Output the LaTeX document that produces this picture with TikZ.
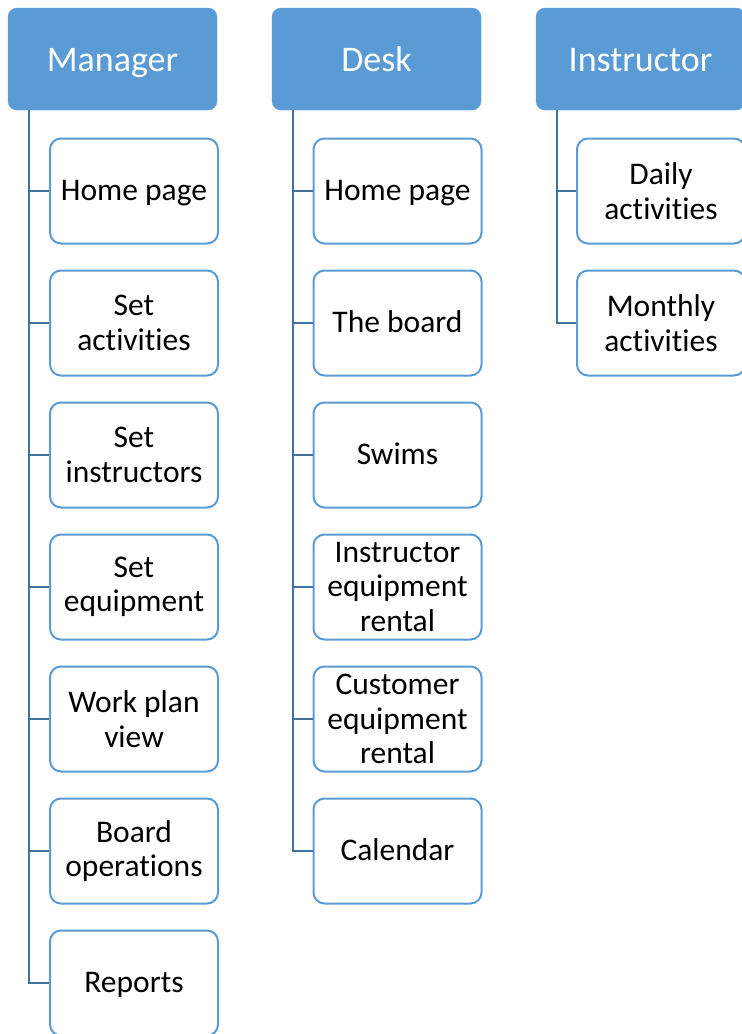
\documentclass[tikz,border=0pt]{standalone}
\usepackage{fontspec}
\setmainfont{Carlito}[Ligatures=NoCommon]
\usetikzlibrary{positioning}
\definecolor{headblue}{HTML}{5B9BD5}
\definecolor{linkblue}{HTML}{41719C}

\begin{document}
\begin{tikzpicture}[x=1pt,y=-1pt,
  head/.style={fill=headblue, draw=headblue, rounded corners=9pt, minimum width=209pt, minimum height=102pt, inner sep=0pt, text height=32pt, text depth=8pt, text=white, font=\fontsize{36}{40}\selectfont},
  item/.style={fill=white, draw=headblue, line width=2pt, rounded corners=11pt, minimum width=168pt, minimum height=105pt, inner sep=0pt, align=center, font=\fontsize{31.5}{34.5}\selectfont},
  one/.style={text height=24pt, text depth=6pt},
  link/.style={draw=linkblue, line width=2.5pt}]
\useasboundingbox (0,0) rectangle (742,1034);
% headers
\node[head] (mgr) at (112.5,59) {Manager};
\node[head] (desk) at (376.5,59) {Desk};
\node[head] (inst) at (640.5,59) {Instructor};
% manager items
\foreach \t/\s [count=\i] in {Home page/one, {Set\\activities}/, {Set\\instructors}/, {Set\\equipment}/, {Work plan\\view}/, {Board\\operations}/, Reports/one}
  \node[item,\s] (m\i) at (134,191+132*\i-132) {\t};
% desk items
\foreach \t/\s [count=\i] in {Home page/one, The board/one, Swims/one, {Instructor\\equipment\\rental}/, {Customer\\equipment\\rental}/, Calendar/one}
  \node[item,\s] (d\i) at (397.5,191+132*\i-132) {\t};
% instructor items
\node[item] (i1) at (661,191) {Daily\\activities};
\node[item] (i2) at (661,323) {Monthly\\activities};
% connectors
\coordinate (mtop) at ([xshift=21pt]mgr.south west);
\coordinate (dtop) at ([xshift=21pt]desk.south west);
\coordinate (itop) at ([xshift=21pt]inst.south west);
\foreach \i in {1,...,7} \draw[link] (mtop) |- (m\i.west);
\foreach \i in {1,...,6} \draw[link] (dtop) |- (d\i.west);
\foreach \i in {1,2} \draw[link] (itop) |- (i\i.west);
\end{tikzpicture}
\end{document}
